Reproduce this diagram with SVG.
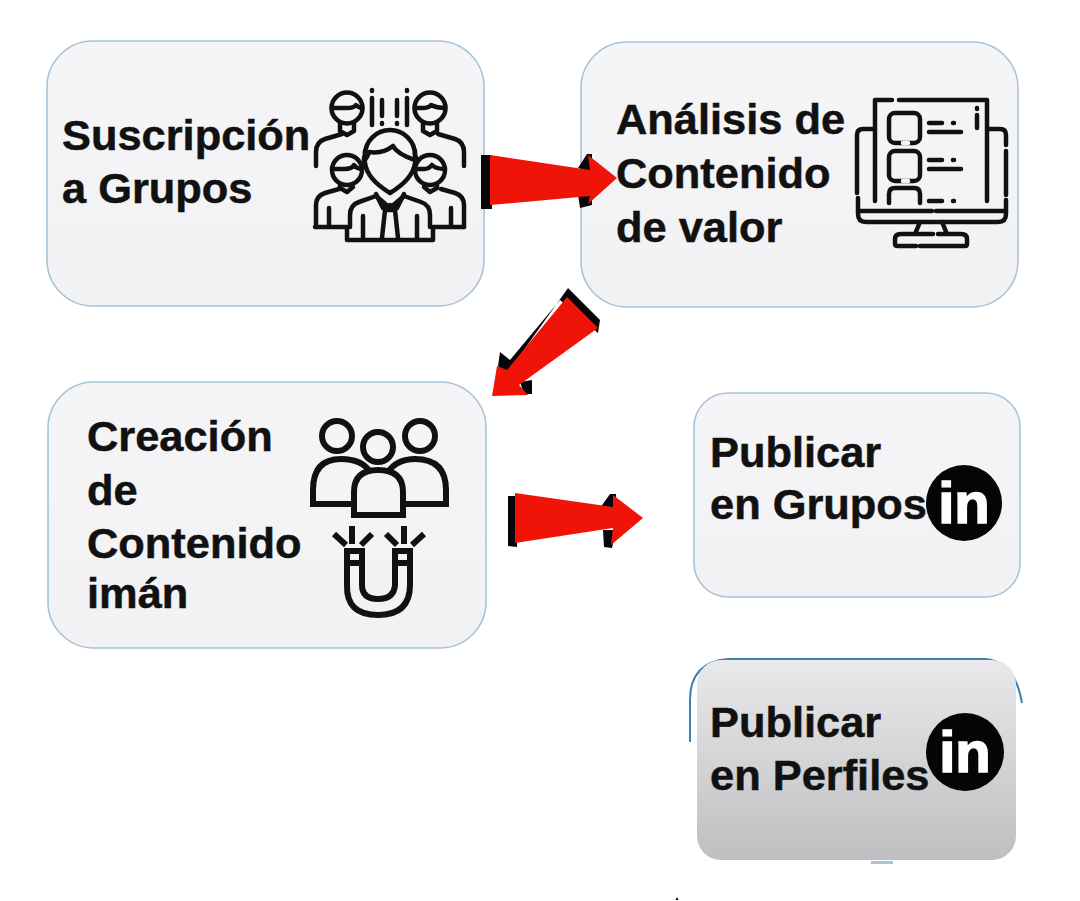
<svg xmlns="http://www.w3.org/2000/svg" width="1080" height="901" viewBox="0 0 1080 901">
<style>
.t{font-family:"Liberation Sans",Arial,sans-serif;font-weight:700;font-size:43.4px;fill:#111;stroke:#111;stroke-width:.5}
.box{stroke:#a8c3d6;stroke-width:1.6}
.ic{fill:none;stroke:#111;stroke-width:4.5;stroke-linecap:round;stroke-linejoin:round}
.th{stroke-width:6;stroke-linecap:butt;stroke-linejoin:miter}
.red{fill:#f01408}
.blk{fill:#06060c}
.in{font-family:"Liberation Sans",Arial,sans-serif;font-weight:700;font-size:58px;fill:#fff;stroke:#fff;stroke-width:1.6;text-anchor:middle}
</style>
<defs>
<linearGradient id="lg" x1="0" y1="0" x2="0" y2="1"><stop offset="0" stop-color="#f5f5f7"/><stop offset="1" stop-color="#f2f2f4"/></linearGradient>
<linearGradient id="dg" x1="0" y1="0" x2="0" y2="1"><stop offset="0" stop-color="#e9e9eb"/><stop offset="1" stop-color="#bfbfc1"/></linearGradient>
</defs>
<rect width="1080" height="901" fill="#fff"/>
<g id="node-suscripcion">
<rect class="box" x="47" y="41" width="437" height="265" rx="46" fill="url(#lg)"/>
<text class="t" x="62" y="150">Suscripción</text>
<text class="t" x="62" y="203">a Grupos</text>
<g class="ic">
<circle cx="347" cy="108" r="15.5"/><path d="M332 108h15q7 0 9-3q3 3 6 3"/>
<circle cx="430" cy="108" r="15.5"/><path d="M415 108h7q7 0 9-3q6 3 14 3"/>
<path d="M340 124v7l7 4l7-4v-7M423 124v7l7 4l7-4v-7"/>
<path d="M316 166v-14q0-10 9-13l17-5M464 166v-14q0-10-9-13l-17-5"/>
<path d="M372 90v1M372 98v27M382 100v16M382 123v1M397 100v16M397 123v1M407 90v1M407 98v27"/>
<circle cx="347" cy="170" r="15"/><path d="M332 169h12q8 0 10-4q3 4 8 4"/>
<circle cx="430" cy="170" r="15"/><path d="M415 169h9q5 0 8-4q4 4 13 4"/>
<path d="M353 187l-6 5l-7-4v-3M424 187l6 5l7-4v-3"/>
<path d="M316 227v-22q0-9 9-12l14-4M464 227v-22q0-9-9-12l-14-4M329 208v18M451 208v18"/>
<path d="M315 227h32v13h86v-13h31"/>
<path d="M365 155a25 25 0 0 1 50 0q2 4 0 8q-2 16-25 30q-23-14-25-30q-2-4 0-8z"/>
<path d="M365 160q3-4 4-8q14 2 24-6q4 8 22 14M365 155a24 24 0 0 1 0-4M415 155v-4"/>
<path d="M350 215q0-10 9-13l17-6l14 12l14-12l17 6q9 3 9 13v12M350 215v12M363 216v22M417 216v22"/>
<path d="M376 194l7 14l7-3l7 3l7-14M385 210l-3 28M395 210l3 28M385 210h10"/>
</g>
</g>
<g id="node-analisis">
<rect class="box" x="581" y="42" width="437" height="265" rx="46" fill="url(#lg)"/>
<text class="t" x="616" y="134">Análisis de</text>
<text class="t" x="616" y="188">Contenido</text>
<text class="t" x="616" y="242">de valor</text>
<g class="ic">
<path d="M875 201v-101h17M899 100h88v101M875 129h-12q-6 0-6 6v58M987 129h13q6 0 6 6v10M1006 151v44"/>
<rect x="889" y="113" width="31" height="30" rx="6"/>
<path d="M908 143h-5" stroke="#f5f5f7"/>
<rect x="889" y="151" width="31" height="30" rx="6"/>
<path d="M908 181h-5" stroke="#f5f5f7"/>
<path d="M929 123h13M953 123h1M929 132h32M929 160h13M953 160h1M929 169h32M977 108v1M977 115v13"/>
<path d="M889 203v-9q0-6 6-6h19q6 0 6 6v9M929 201h13M953 201h1"/>
<path d="M858 198v16q0 8 8 8h132q8 0 8-8v-14M858 211h74M936 211h70"/>
<path d="M920 222l-5 12h-14q-6 0-6 5v5q0 2 3 2h18M920 246h45q2 0 2-2v-5q0-5-6-5h-14l-5-12M913 234h18M932 234h1M938 234h9"/>
</g>
</g>
<g id="node-creacion">
<rect class="box" x="48" y="382" width="438" height="266" rx="46" fill="url(#lg)"/>
<text class="t" x="87" y="451">Creación</text>
<text class="t" x="87" y="505">de</text>
<text class="t" x="87" y="558">Contenido</text>
<text class="t" x="87" y="608">imán</text>
<g class="ic th">
<circle cx="337" cy="436" r="15"/><circle cx="378" cy="447" r="15"/><circle cx="420" cy="436" r="15"/>
<path d="M353 504h-40v-14q0-31 28-31q21 0 29 13M388 472q9-13 27-13q31 0 31 31v14h-41" />
<path d="M354 515v-23q0-22 24-22q25 0 25 22v23z"/>
<path d="M352 526v18M404 526v18M334 534l12 11M372 534l-11 11M386 534l11 11M424 534l-12 11"/>
<path d="M347 551h15v34q0 14 16 14t17-14v-34h15v34q0 30-32 30t-31-30z"/>
<path d="M347 563h15M395 563h15"/>
</g>
</g>
<g id="node-grupos">
<rect class="box" x="694" y="393" width="326" height="204" rx="34" fill="url(#lg)"/>
<text class="t" x="710" y="467">Publicar</text>
<text class="t" x="710" y="519">en Grupos</text>
<circle cx="964" cy="503" r="38" fill="#050505"/>
<text class="in" x="964" y="523">in</text>
</g>
<g id="node-perfiles">
<path d="M690 742V700q0-38 38-41H985q30 2 37 44" fill="none" stroke="#3f7fa8" stroke-width="2"/>
<path d="M871 861h22v3h-22z" fill="#a8c3d6"/>
<rect x="697" y="660" width="319" height="200" rx="24" fill="url(#dg)"/>
<text class="t" x="710" y="737">Publicar</text>
<text class="t" x="710" y="790">en Perfiles</text>
<circle cx="965" cy="752" r="39" fill="#050505"/>
<text class="in" x="965" y="772">in</text>
</g>
<g id="connectors">
<path class="blk" d="M481 155H492V209H481Z"/>
<path class="blk" d="M578 168L587 154H592V172ZM578 194H592V205L580 208Z"/>
<path class="red" d="M490 155L590 170L588 155L617 178L588 204L590 196L490 205Z"/>
<path class="blk" d="M568 288L600 320L598 333L560 300L510 360L500 352L498 366L506 375Z"/>
<path class="blk" d="M520 382L532 380L532 394L524 394Z"/>
<path class="red" d="M567 297L598 328L519 385L528 395L492 396L497 366L507 370Z"/>
<path class="blk" d="M508 496H517V547L508 546ZM600 508L610 494H616V510ZM603 530H616L612 548L604 547Z"/>
<path class="red" d="M515 493L613 507V495L643 518L611 545L613 528L515 543Z"/>
<path class="blk" d="M677 897l-1.5 3h3z"/>
</g>
</svg>
